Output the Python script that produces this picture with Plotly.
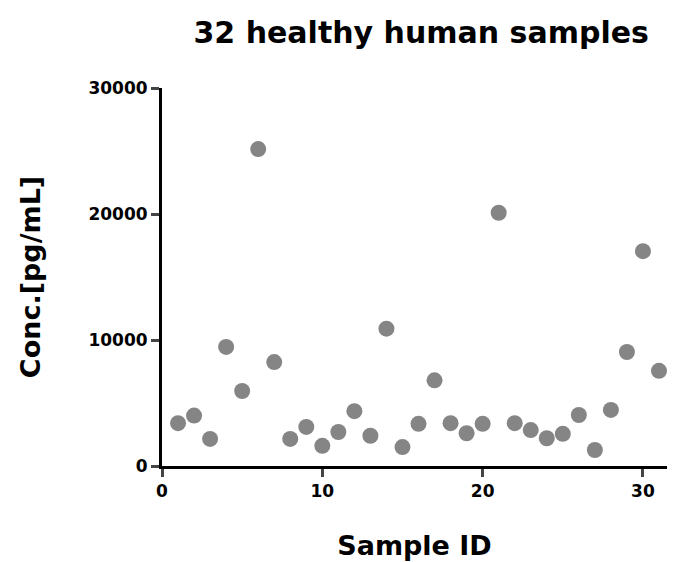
import plotly.graph_objects as go

sample_id = list(range(1, 32))
conc = [3400, 4000, 2150, 9450, 5950, 25150, 8250, 2150, 3100, 1600,
        2700, 4350, 2400, 10900, 1500, 3350, 6800, 3400, 2600, 3350,
        20100, 3400, 2850, 2200, 2550, 4050, 1270, 4450, 9050, 17050, 7550]
x_ticks = [0, 10, 20, 30]
y_ticks = [0, 10000, 20000, 30000]

font = "DejaVu Sans, sans-serif"

fig = go.Figure()
fig.add_trace(go.Scatter(x=sample_id, y=conc, mode="markers",
                         marker=dict(color="#858585", size=16),
                         cliponaxis=False, showlegend=False))

fig.update_layout(
    width=659, height=554,
    margin=dict(l=154, r=0, t=80, b=96),
    plot_bgcolor="white", paper_bgcolor="white",
    title=dict(text="<b>32 healthy human samples</b>", x=0.627, xanchor="center",
               y=0.955, yanchor="middle", font=dict(family=font, size=30, color="black")),
    font=dict(family=font, color="black"),
)
fig.update_xaxes(range=[0, 31.5], tickvals=x_ticks, ticktext=[f"<b>{v}</b>" for v in x_ticks],
                 showgrid=False, zeroline=False,
                 showline=True, linecolor="black", linewidth=3,
                 ticks="outside", ticklen=8, tickwidth=3,
                 tickfont=dict(family=font, size=17, color="black"),
                 title=dict(text="<b>Sample ID</b>", font=dict(family=font, size=27), standoff=36))
fig.update_yaxes(range=[0, 30000], tickvals=y_ticks, ticktext=[f"<b>{v}</b>" for v in y_ticks],
                 showgrid=False, zeroline=False,
                 showline=True, linecolor="black", linewidth=3,
                 ticks="outside", ticklen=8, tickwidth=3,
                 tickfont=dict(family=font, size=17, color="black"),
                 title=dict(text="<b>Conc.[pg/mL]</b>", font=dict(family=font, size=27), standoff=40))

fig.write_html("out.html")
